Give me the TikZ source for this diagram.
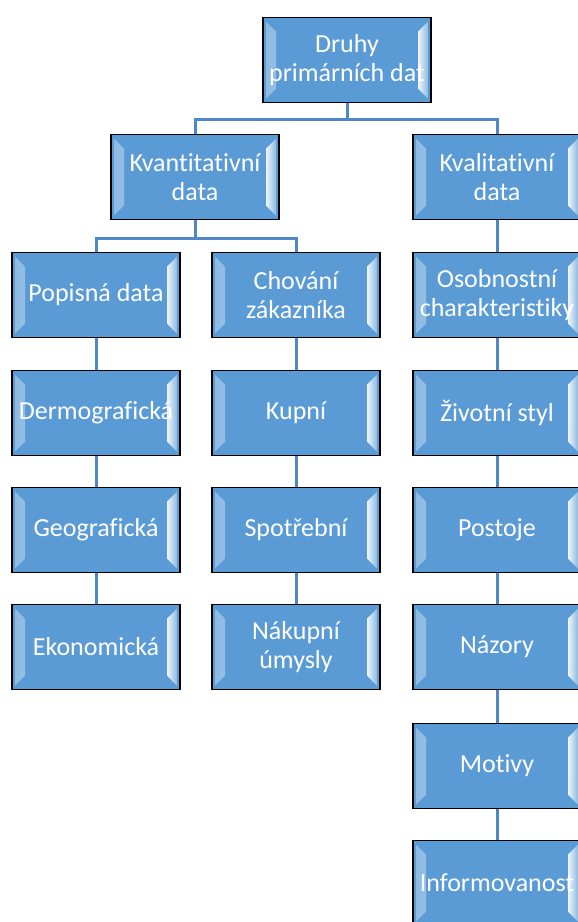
\documentclass[tikz,border=0pt]{standalone}
\usepackage{fontspec}
\setmainfont[Ligatures=NoCommon]{Carlito}
\usetikzlibrary{calc}
\definecolor{boxblue}{HTML}{5B9BD5}
\definecolor{lineblue}{HTML}{4F88C6}
\tikzset{
  bevel/.style={path picture={
    \fill[left color=boxblue!70!white,right color=white!90!boxblue]
      ($(path picture bounding box.north west)+(3,4)$)--++(10,10)
      --($(path picture bounding box.south west)+(13,-14)$)--++(-10,10)--cycle;
    \fill[left color=white!90!boxblue,right color=boxblue!70!white]
      ($(path picture bounding box.north east)+(-13,14)$)--++(10,-10)
      --($(path picture bounding box.south east)+(-3,-4)$)--++(-10,-10)--cycle;}},
  dbox/.style={draw=black,line width=1.5pt,fill=boxblue,bevel,minimum width=168,
    minimum height=85,inner sep=0pt,text=white,align=center,
    font=\fontsize{26}{29}\selectfont},
  conn/.style={lineblue,line width=3pt}}
\begin{document}
\begin{tikzpicture}[x=1pt,y=-1pt]
\useasboundingbox(0,0)rectangle(578,922);
\node[dbox](druhy)at(347,60){Druhy\\primárních dat};
\node[dbox](kvant)at(195,177){Kvantitativní\\data};
\node[dbox](kval)at(497,177){Kvalitativní\\data};
\node[dbox](popis)at(96,295){Popisná data};
\node[dbox](demo)at(96,413){Dermografická};
\node[dbox](geo)at(96,530){Geografická};
\node[dbox](eko)at(96,647){Ekonomická};
\node[dbox](chovani)at(296,295){Chování\\zákazníka};
\node[dbox](kupni)at(296,413){Kupní};
\node[dbox](spotr)at(296,530){Spotřební};
\node[dbox](nakup)at(296,647){Nákupní\\úmysly};
\node[dbox](osob)at(497,295){Osobnostní\\charakteristiky};
\node[dbox](zivot)at(497,413){Životní styl};
\node[dbox](postoje)at(497,530){Postoje};
\node[dbox](nazory)at(497,647){Názory};
\node[dbox](motivy)at(497,766){Motivy};
\node[dbox](info)at(497,883){Informovanost};
\draw[conn](druhy.south)--++(0,16)-|(kvant.north)(druhy.south)--++(0,16)-|(kval.north);
\draw[conn](kvant.south)--++(0,18)-|(popis.north)(kvant.south)--++(0,18)-|(chovani.north);
\foreach \a/\b in {popis/demo,demo/geo,geo/eko,chovani/kupni,kupni/spotr,spotr/nakup,
  kval/osob,osob/zivot,zivot/postoje,postoje/nazory,nazory/motivy,motivy/info}
  \draw[conn](\a.south)--(\b.north);
\end{tikzpicture}
\end{document}
